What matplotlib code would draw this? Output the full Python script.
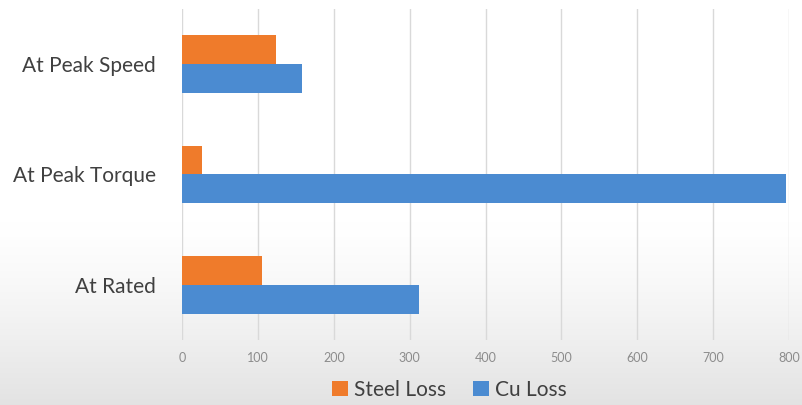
import numpy as np
import matplotlib.pyplot as plt

plt.rcParams['font.family'] = ['Lato', 'DejaVu Sans']

categories = ['At Rated', 'At Peak Torque', 'At Peak Speed']
steel_loss = [106, 26, 124]
cu_loss = [312, 796, 158]
xticks = [0, 100, 200, 300, 400, 500, 600, 700, 800]

ORANGE = '#EF7B2B'
BLUE = '#4B8BD1'

fig = plt.figure(figsize=(8.03, 4.05), dpi=100)

# faint grey fade toward the bottom, like the screenshot
bg = fig.add_axes([0, 0, 1, 1], zorder=-10)
t = np.clip((np.linspace(0, 1, 256) - 0.55) / 0.45, 0, 1) ** 1.3
shade = 1 - 0.11 * t
img = np.repeat(shade[:, None, None], 3, axis=2)
bg.imshow(img, aspect='auto', extent=[0, 1, 0, 1], origin='upper')
bg.set_axis_off()

ax = fig.add_axes([0.2267, 0.1605, 0.756, 0.8175])
ax.patch.set_alpha(0)

y = np.arange(len(categories))
h = 0.26
ax.barh(y - h/2, cu_loss, height=h, color=BLUE, label='Cu Loss', zorder=3)
ax.barh(y + h/2, steel_loss, height=h, color=ORANGE, label='Steel Loss', zorder=3)

ax.set_xlim(0, 800)
ax.set_ylim(-0.5, 2.5)
ax.set_xticks(xticks)
ax.set_yticks(y)
ax.set_yticklabels(categories, fontsize=15, color='#404040')
ax.tick_params(axis='x', labelsize=9, colors='#8c8c8c', length=0, pad=9)
ax.tick_params(axis='y', length=0, pad=19)
ax.grid(axis='x', color='#d9d9d9', linewidth=1, zorder=0)
for s in ax.spines.values():
    s.set_visible(False)

handles, labels = ax.get_legend_handles_labels()
fig.legend(handles[::-1], labels[::-1], loc='center', bbox_to_anchor=(0.56, 0.037),
           ncol=2, frameon=False, fontsize=15, handlelength=0.75, handleheight=0.75,
           handletextpad=0.3, columnspacing=1.3, labelcolor='#404040')

fig.savefig('out.png', dpi=100)
